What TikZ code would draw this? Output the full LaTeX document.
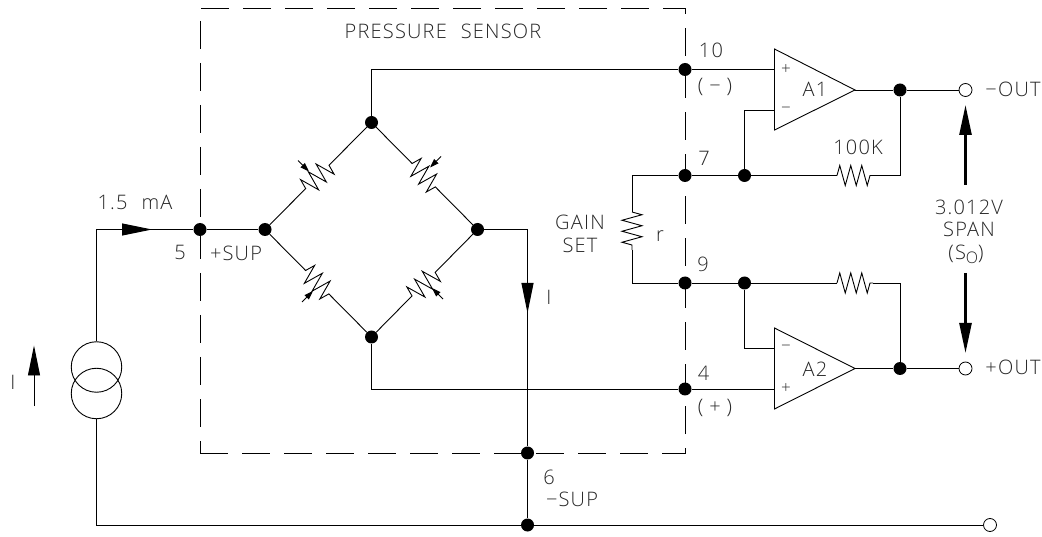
\documentclass[tikz,border=0pt]{standalone}
\usepackage{fontspec}
\setmainfont[LetterSpace=6,WordSpace=2.2]{Open Sans Light}
\usetikzlibrary{arrows.meta,decorations.pathmorphing}
\tikzstyle{wire} = [line width=0.9pt]
\tikzstyle{dot} = [circle, fill=black, inner sep=0pt, minimum size=13pt]
\tikzstyle{port} = [circle, draw, line width=0.8pt, fill=white, inner sep=0pt, minimum size=13pt]
\tikzstyle{lbl} = [inner sep=0pt, font=\fontsize{20}{20}\selectfont, text=black!85]
\tikzstyle{small} = [inner sep=0pt, font=\fontsize{17}{17}\selectfont, text=black!85]
\tikzstyle{zigres} = [wire, decorate, decoration={zigzag, segment length=11pt, amplitude=10pt}]
\tikzstyle{bridgeres} = [wire, decorate, decoration={zigzag, segment length=11pt, amplitude=10pt, pre length=51pt, post length=51pt}]
\tikzstyle{trim} = [line width=0.9pt, -{Triangle[length=9pt,width=6pt]}]
\tikzstyle{flow} = [line width=0.9pt, -{Triangle[length=30pt,width=12pt]}]
\tikzstyle{span} = [line width=2.6pt, -{Triangle[length=30pt,width=12pt]}]
\begin{document}
\begin{tikzpicture}[x=1pt,y=-1pt]
   \useasboundingbox (0,0) rectangle (1042,537);
   % sensor box
   \node[draw, line width=0.8pt, dash pattern=on 28pt off 14pt, minimum width=485pt, minimum height=445pt, inner sep=0pt] (sensor) at (442.5,230.5) {};
   \node[lbl] (title) at (443,31) {PRESSURE SENSOR};
   % bridge
   \node[dot] (top) at (371.5,122.5) {};
   \node[dot] (lft) at (265,229.5) {};
   \node[dot] (rgt) at (477.5,229.5) {};
   \node[dot] (bot) at (371.5,337) {};
   \draw[bridgeres] (lft) -- (top);
   \draw[bridgeres] (top) -- (rgt);
   \draw[bridgeres] (lft) -- (bot);
   \draw[bridgeres] (bot) -- (rgt);
   \coordinate (tla) at (298,160.5);
   \coordinate (tlb) at (309,171.5);
   \coordinate (tra) at (441,156.5);
   \coordinate (trb) at (430,167.5);
   \coordinate (bla) at (302,302);
   \coordinate (blb) at (313,291);
   \coordinate (bra) at (443,299);
   \coordinate (brb) at (432,288);
   \draw[trim] (tla) -- (tlb);
   \draw[trim] (tra) -- (trb);
   \draw[trim] (bla) -- (blb);
   \draw[trim] (bra) -- (brb);
   % terminals
   \node[dot] (p5) at (200,229.5) {};
   \node[dot] (p10) at (685,69.5) {};
   \node[dot] (p7) at (685,175.5) {};
   \node[dot] (p9) at (685,283) {};
   \node[dot] (p4) at (685,389) {};
   \node[dot] (p6) at (527.5,453) {};
   \node[dot] (gnd) at (527.5,525) {};
   \node[dot] (j7) at (744.5,175.5) {};
   \node[dot] (j9) at (744.5,283) {};
   \node[dot] (o1) at (900,90) {};
   \node[dot] (o2) at (900,368.5) {};
   \node[port] (out1) at (965.5,90) {};
   \node[port] (out2) at (965.5,368.5) {};
   \node[port] (out3) at (990,525) {};
   % amplifiers
   \coordinate (a1p) at (774.5,69.5);
   \coordinate (a1n) at (774.5,110.5);
   \coordinate (a2n) at (774.5,348);
   \coordinate (a2p) at (774.5,389);
   \draw[wire] (774.5,49) -- (855,90) coordinate (a1o) -- (774.5,130) -- cycle;
   \draw[wire] (774.5,328) -- (855,368.5) coordinate (a2o) -- (774.5,409) -- cycle;
   \node[lbl] (a1) at (815,89) {A1};
   \node[lbl] (a2) at (815,369) {A2};
   \node[small] (a1plus) at (786,70) {+};
   \node[small] (a1minus) at (786,110.5) {−};
   \node[small] (a2minus) at (786,348) {−};
   \node[small] (a2plus) at (786,388.5) {+};
   % wiring
   \draw[wire] (top) -- (371.5,69.5) -- (p10);
   \draw[wire] (p10) -- (a1p);
   \draw[wire] (bot) -- (371.5,389) -- (p4);
   \draw[wire] (p4) -- (a2p);
   \draw[wire] (p5) -- (lft);
   \draw[wire] (rgt) -- (527.5,229.5) -- (p6);
   \draw[wire] (p6) -- (gnd);
   \draw[wire] (p7) -- (j7);
   \draw[wire] (p9) -- (j9);
   \draw[wire] (j7) -- (744.5,110.5) -- (a1n);
   \draw[wire] (j9) -- (744.5,348) -- (a2n);
   \draw[wire] (a1o) -- (o1);
   \draw[wire] (o1) -- (out1);
   \draw[wire] (a2o) -- (o2);
   \draw[wire] (o2) -- (out2);
   \coordinate (fb1a) at (837,175.5);
   \coordinate (fb1b) at (873,175.5);
   \coordinate (fb2a) at (837,283);
   \coordinate (fb2b) at (873,283);
   \draw[wire] (j7) -- (fb1a);
   \draw[zigres] (fb1a) -- (fb1b);
   \draw[wire] (fb1b) -- (900,175.5) -- (o1);
   \draw[wire] (j9) -- (fb2a);
   \draw[zigres] (fb2a) -- (fb2b);
   \draw[wire] (fb2b) -- (900,283) -- (o2);
   % gain resistor
   \coordinate (ga) at (632,212);
   \coordinate (gb) at (632,250);
   \draw[wire] (p7) -- (632,175.5) -- (ga);
   \draw[zigres] (ga) -- (gb);
   \draw[wire] (gb) -- (632,283) -- (p9);
   % source
   \node[circle, draw, line width=0.9pt, minimum size=50.5pt, inner sep=0pt] (src1) at (96.5,367) {};
   \node[circle, draw, line width=0.9pt, minimum size=50.5pt, inner sep=0pt] (src2) at (96.5,393.5) {};
   \draw[wire] (src1) -- (96.5,229.5) -- (p5);
   \draw[wire] (src2) -- (96.5,525) -- (gnd);
   \draw[wire] (gnd) -- (out3);
   % arrows
   \coordinate (ia) at (120,229.5);
   \coordinate (ib) at (152,229.5);
   \draw[flow] (ia) -- (ib);
   \coordinate (ic) at (527.5,284);
   \coordinate (id) at (527.5,313);
   \draw[flow] (ic) -- (id);
   \coordinate (ie) at (34,406);
   \coordinate (if) at (34,345.5);
   \draw[flow] (ie) -- (if);
   \coordinate (sa) at (965.5,185);
   \coordinate (sb) at (965.5,105);
   \coordinate (sc) at (965.5,273);
   \coordinate (sd) at (965.5,353);
   \draw[span] (sa) -- (sb);
   \draw[span] (sc) -- (sd);
   % labels
   \node[lbl] (l10) at (711,50) {10};
   \node[lbl] (lneg) at (715,87) {(\kern6pt−\kern6pt)};
   \node[lbl] (l7) at (704,158) {7};
   \node[lbl] (l9) at (703,264) {9};
   \node[lbl] (l4) at (703.5,373) {4};
   \node[lbl] (lpos) at (715,408) {(\kern6pt+\kern6pt)};
   \node[lbl] (lkohm) at (858,147) {100K};
   \node[lbl] (loutn) at (1013,89) {−OUT};
   \node[lbl] (loutp) at (1013,367) {+OUT};
   \node[lbl] (lvolt) at (969,207) {3.012V};
   \node[lbl] (lspan) at (969,229) {SPAN};
   \node[lbl] (lso) at (966,254) {(S\raisebox{-4pt}{\fontsize{16}{16}\selectfont O})};
   \node[lbl] (lgain) at (580,222) {GAIN};
   \node[lbl] (lset) at (580,245) {SET};
   \node[lbl] (lr) at (660,236) {r};
   \node[lbl] (lma) at (135,202) {1.5 mA};
   \node[lbl] (l5) at (180,252) {5};
   \node[lbl] (lsup) at (236,253) {+SUP};
   \node[lbl] (lcur) at (549,297) {I};
   \node[lbl] (lcur2) at (13,382) {I};
   \node[lbl] (l6) at (549,477) {6};
   \node[lbl] (lmsup) at (572,499) {−SUP};
\end{tikzpicture}
\end{document}
